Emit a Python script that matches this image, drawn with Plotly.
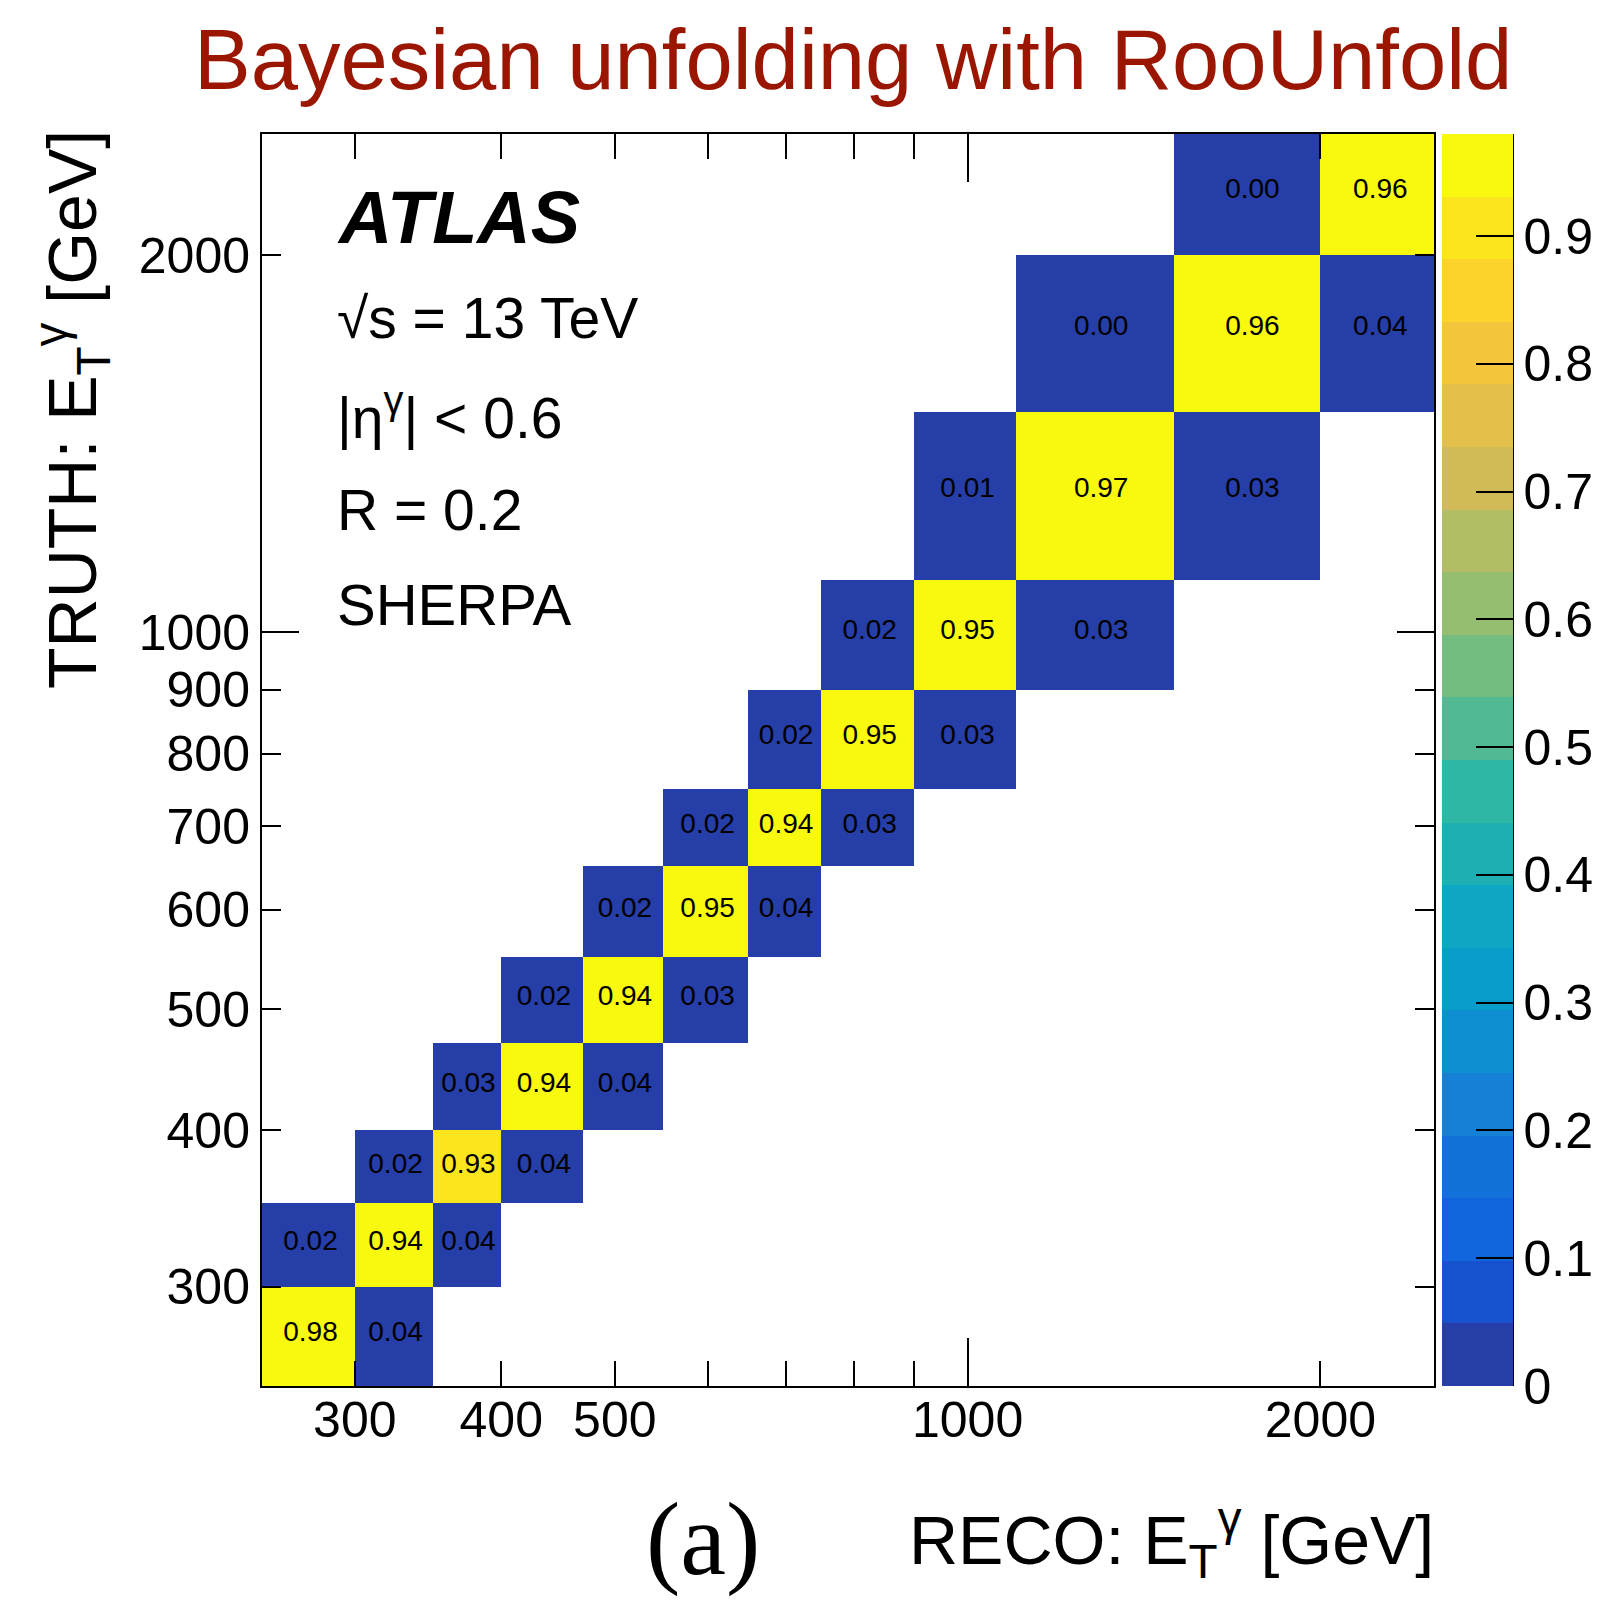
import numpy as np
import plotly.graph_objects as go

# ---------------- data ----------------
bin_edges = [250, 300, 350, 400, 470, 550, 650, 750, 900, 1100, 1500, 2000, 2500]
# diagonal: reco bin == truth bin
diag_vals = [0.98, 0.94, 0.93, 0.94, 0.94, 0.95, 0.94, 0.95, 0.95, 0.97, 0.96, 0.96]
# reco bin = truth bin - 1  (truth bins 1..11)
left_vals = [0.02, 0.02, 0.03, 0.02, 0.02, 0.02, 0.02, 0.02, 0.01, 0.00, 0.00]
# reco bin = truth bin + 1  (truth bins 0..10)
right_vals = [0.04, 0.04, 0.04, 0.04, 0.03, 0.04, 0.03, 0.03, 0.03, 0.03, 0.04]

x_label_vals = [300, 400, 500, 1000, 2000]
x_minor_vals = [600, 700, 800, 900]
y_label_vals = [300, 400, 500, 600, 700, 800, 900, 1000, 2000]
long_tick_vals = [1000]
cbar_tick_vals = [0, 0.1, 0.2, 0.3, 0.4, 0.5, 0.6, 0.7, 0.8, 0.9]
cbar_tick_text = ["0", "0.1", "0.2", "0.3", "0.4", "0.5", "0.6", "0.7", "0.8", "0.9"]
z_max = 0.98
n_contours = 20

# ---------------- matrix ----------------
n = len(bin_edges) - 1
z = [[None] * n for _ in range(n)]
for j, v in enumerate(diag_vals):
    z[j][j] = v
for k, v in enumerate(left_vals):
    z[k + 1][k] = v
for k, v in enumerate(right_vals):
    z[k][k + 1] = v

# ---------------- ROOT kBird palette ----------------
stops = [0.0000, 0.1250, 0.2500, 0.3750, 0.5000, 0.6250, 0.7500, 0.8750, 1.0000]
red = [0.2082, 0.0592, 0.0780, 0.0232, 0.1802, 0.5301, 0.8186, 0.9956, 0.9764]
green = [0.1664, 0.3599, 0.5041, 0.6419, 0.7178, 0.7492, 0.7328, 0.7862, 0.9832]
blue = [0.5293, 0.8684, 0.8385, 0.7914, 0.6425, 0.4662, 0.3499, 0.1968, 0.0539]
NCOL = 255
table = []
for g in range(1, len(stops)):
    nc = int(np.floor(NCOL * stops[g]) - np.floor(NCOL * stops[g - 1]))
    for c in range(nc):
        f = c / nc
        table.append((red[g - 1] + f * (red[g] - red[g - 1]),
                      green[g - 1] + f * (green[g] - green[g - 1]),
                      blue[g - 1] + f * (blue[g] - blue[g - 1])))
colorscale = []
for i in range(n_contours):
    idx = min(int((i + 0.99) * NCOL / n_contours), len(table) - 1)
    r, gg, b = table[idx]
    col = "rgb(%d,%d,%d)" % (round(r * 255), round(gg * 255), round(b * 255))
    colorscale.append([i / n_contours, col])
    colorscale.append([(i + 1) / n_contours, col])

# ---------------- geometry ----------------
W, H = 1615, 1601
L, R, T, B = 262, 1434, 134, 1386


def px(x):
    return (x - L) / (R - L)


def py(y):
    return (B - y) / (B - T)


FONT = "Liberation Sans"
log_range = [np.log10(bin_edges[0]), np.log10(bin_edges[-1])]

fig = go.Figure()
fig.add_trace(go.Heatmap(
    x=bin_edges, y=bin_edges, z=z,
    zmin=0, zmax=z_max, colorscale=colorscale,
    hoverongaps=False,
    colorbar=dict(
        thickness=71, thicknessmode="pixels",
        len=1, lenmode="fraction",
        x=px(1442), xanchor="left", y=0.5, yanchor="middle",
        xpad=0, ypad=0, outlinewidth=0,
        ticks="inside", ticklen=37, tickwidth=2, tickcolor="black",
        tickmode="array", tickvals=cbar_tick_vals, ticktext=cbar_tick_text,
        tickfont=dict(family=FONT, size=50, color="black"),
    ),
))

# bin-content labels at bin centres (drawn on the overlay axes carrying the long ticks)
tx, ty, tt = [], [], []
for j in range(n):
    for i in range(n):
        if z[j][i] is not None:
            tx.append(0.5 * (bin_edges[i] + bin_edges[i + 1]))
            ty.append(0.5 * (bin_edges[j] + bin_edges[j + 1]))
            tt.append("%.2f" % z[j][i])
fig.add_trace(go.Scatter(
    x=tx, y=ty, text=tt, mode="text", xaxis="x2", yaxis="y2",
    textfont=dict(family=FONT, size=28, color="black"),
    hoverinfo="skip", showlegend=False,
))

axis_common = dict(
    type="log", showgrid=False, zeroline=False, range=log_range,
    linecolor="black", linewidth=2, mirror="allticks",
    ticks="inside", tickwidth=2, tickcolor="black",
    tickfont=dict(family=FONT, size=50, color="black"),
    tickmode="array",
)
fig.update_layout(
    xaxis=dict(**axis_common, showline=True, tickvals=x_label_vals,
               ticktext=[str(v) for v in x_label_vals], ticklen=25,
               ticklabelstandoff=-11,
               minor=dict(tickmode="array", tickvals=x_minor_vals, ticklen=25,
                          ticks="inside", tickwidth=2, tickcolor="black")),
    yaxis=dict(**axis_common, showline=True, tickvals=y_label_vals,
               ticktext=[str(v) for v in y_label_vals], ticklen=19),
    xaxis2=dict(**axis_common, showline=False, overlaying="x", anchor="y2",
                side="bottom", tickvals=long_tick_vals, ticklen=48,
                showticklabels=False),
    yaxis2=dict(**axis_common, showline=False, overlaying="y", anchor="x2",
                side="left", tickvals=long_tick_vals, ticklen=37,
                showticklabels=False),
)

# colour bar axis line (right edge)
fig.add_shape(type="line", xref="paper", yref="paper",
              x0=px(1513), x1=px(1513), y0=0, y1=1,
              line=dict(color="black", width=2))

ann = []
ann.append(dict(text="Bayesian unfolding with RooUnfold", x=px(853), y=py(60),
                xanchor="center", yanchor="middle",
                font=dict(family=FONT, size=85, color="#9a1600")))
ann.append(dict(text="<b><i>ATLAS</i></b>", x=px(335), y=py(217),
                xanchor="left", yanchor="middle",
                font=dict(family=FONT, size=74, color="black")))
ann.append(dict(text="√s = 13 TeV", x=px(335), y=py(318),
                xanchor="left", yanchor="middle",
                font=dict(family=FONT, size=57, color="black")))
ann.append(dict(text="|η<sup>γ</sup>| < 0.6", x=px(335), y=py(414),
                xanchor="left", yanchor="middle",
                font=dict(family=FONT, size=57, color="black")))
ann.append(dict(text="R = 0.2", x=px(335), y=py(510),
                xanchor="left", yanchor="middle",
                font=dict(family=FONT, size=57, color="black")))
ann.append(dict(text="SHERPA", x=px(335), y=py(604),
                xanchor="left", yanchor="middle",
                font=dict(family=FONT, size=58, color="black")))
ann.append(dict(text="TRUTH: E<sub>T</sub><sup>γ</sup> [GeV]", x=px(72), y=py(410),
                xanchor="center", yanchor="middle", textangle=-90,
                font=dict(family=FONT, size=68, color="black")))
ann.append(dict(text="RECO: E<sub>T</sub><sup>γ</sup> [GeV]", x=px(1436), y=py(1540),
                xanchor="right", yanchor="middle",
                font=dict(family=FONT, size=68, color="black")))
ann.append(dict(text="(a)", x=px(703), y=py(1539),
                xanchor="center", yanchor="middle",
                font=dict(family="Liberation Serif", size=103, color="black")))
for a in ann:
    a.update(xref="paper", yref="paper", showarrow=False)

fig.update_layout(
    width=W, height=H,
    margin=dict(l=L, r=W - R, t=T, b=H - B, autoexpand=False),
    plot_bgcolor="white", paper_bgcolor="white",
    showlegend=False, annotations=ann,
)

fig.write_html("out.html")
